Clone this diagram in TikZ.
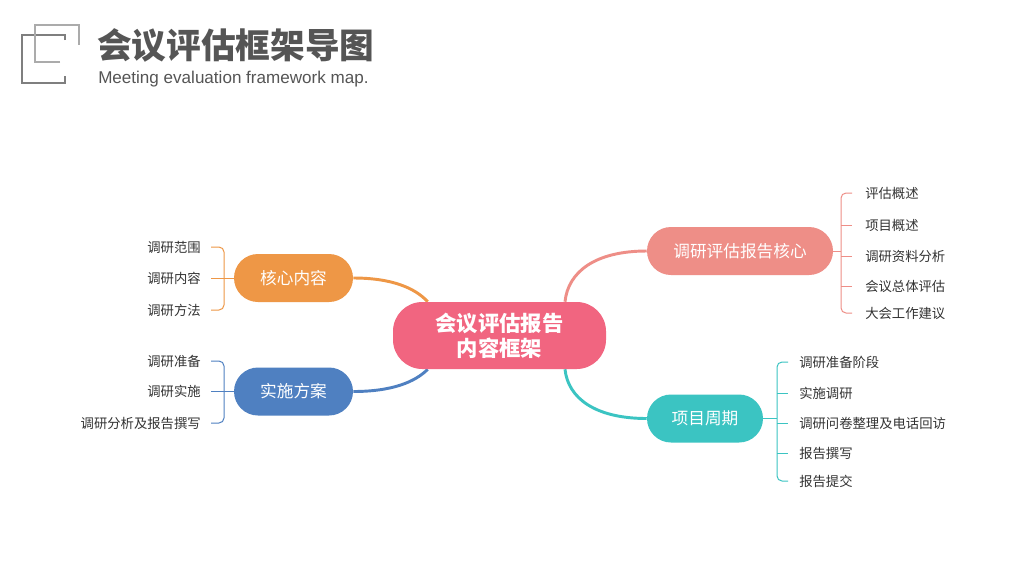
\documentclass[tikz,border=0pt]{standalone}
\usepackage{fontspec}
\setmainfont{Noto Sans CJK SC}
\newfontfamily\latinfont{Liberation Sans}
\usetikzlibrary{calc,backgrounds}
\definecolor{cpink}{HTML}{F16580}
\definecolor{csalmon}{HTML}{EE8E87}
\definecolor{cteal}{HTML}{3BC4C2}
\definecolor{corange}{HTML}{EE9746}
\definecolor{cblue}{HTML}{4F80C1}
\definecolor{titlec}{HTML}{555555}
\definecolor{leafc}{HTML}{333333}
\definecolor{logodark}{HTML}{7F7F7F}
\definecolor{logolight}{HTML}{ABABAB}
\begin{document}
\begin{tikzpicture}[x=0.75pt,y=-0.75pt,
  hub/.style={fill=cpink, rounded corners=22pt, minimum width=159.75pt, minimum height=50.25pt,
    text=white, font=\bfseries\fontsize{16}{18.75}\selectfont, align=center, inner sep=0pt},
  branch/.style={rounded corners=18pt, minimum height=36pt, text=white,
    font=\fontsize{12.5}{14}\selectfont, inner sep=0pt},
  leaf/.style={inner sep=0pt, font=\fontsize{10}{12}\selectfont, text=leafc},
  link/.style={line width=2.2pt},
  brk/.style={line width=0.75pt, rounded corners=3.75pt},
  logoline/.style={line width=1.8pt, miter limit=10}]
\begin{scope}[on background layer]
\fill[white] (0,0) rectangle (1024,576);
\end{scope}
\path[use as bounding box] (0,0) rectangle (1024,576);

% logo
\draw[logoline, logodark] (65,40) -- (65,35) -- (22,35) -- (22,83) -- (65,83) -- (65,76);
\draw[logoline, logolight] (60,62) -- (35,62) -- (35,25) -- (79,25) -- (79,45);

% title
\node[anchor=west, inner sep=0pt, font=\bfseries\fontsize{26}{30}\selectfont, text=titlec] (title) at (97,45) {会议评估框架导图};
\node[anchor=base west, inner sep=0pt, font=\latinfont\fontsize{12.8}{15}\selectfont, text=titlec] (sub) at (98,83) {Meeting evaluation framework map.};

% main nodes
\node[hub] (hub) at (499.5,335.5) {会议评估报告\\内容框架};
\node[branch, fill=csalmon, minimum width=139.5pt] (rep) at (740,251) {调研评估报告核心};
\node[branch, fill=cteal, minimum width=87pt] (cyc) at (705,418.5) {项目周期};
\node[branch, fill=corange, minimum width=89.25pt] (core) at (293.5,278) {核心内容};
\node[branch, fill=cblue, minimum width=89.25pt] (plan) at (293.5,391.5) {实施方案};

% links
\begin{scope}[on background layer]
\draw[link, corange] (core.east) .. controls (392,278) and (415,288) .. ($(hub.north west)+(35,0)$);
\draw[link, cblue] (plan.east) .. controls (392,391.5) and (415,382) .. ($(hub.south west)+(35,0)$);
\draw[link, csalmon] ($(hub.north)+(65.5,0)$) .. controls (568,272) and (595,251) .. (rep.west);
\draw[link, cteal] ($(hub.south)+(65.5,0)$) .. controls (568,398) and (595,418.5) .. (cyc.west);
\end{scope}

% leaves right top
\node[leaf, anchor=west] (a1) at (865,193) {评估概述};
\node[leaf, anchor=west] (a2) at (865,225) {项目概述};
\node[leaf, anchor=west] (a3) at (865,256) {调研资料分析};
\node[leaf, anchor=west] (a4) at (865,286) {会议总体评估};
\node[leaf, anchor=west] (a5) at (865,313) {大会工作建议};
\coordinate (sa) at (841,251);
\draw[brk, csalmon] ($(a1.west)+(-13,0)$) -- (a1.west -| sa) -- (a5.west -| sa) -- ($(a5.west)+(-13,0)$);
\foreach \n in {a2,a3,a4} \draw[brk, csalmon] (\n.west -| sa) -- ($(\n.west)+(-13,0)$);
\draw[brk, csalmon] (rep.east) -- (rep.east -| sa);

% leaves right bottom
\node[leaf, anchor=west] (b1) at (799,362) {调研准备阶段};
\node[leaf, anchor=west] (b2) at (799,393) {实施调研};
\node[leaf, anchor=west] (b3) at (799,423) {调研问卷整理及电话回访};
\node[leaf, anchor=west] (b4) at (799,453) {报告撰写};
\node[leaf, anchor=west] (b5) at (799,481) {报告提交};
\coordinate (sb) at (777,418.5);
\draw[brk, cteal] ($(b1.west)+(-11,0)$) -- (b1.west -| sb) -- (b5.west -| sb) -- ($(b5.west)+(-11,0)$);
\foreach \n in {b2,b3,b4} \draw[brk, cteal] (\n.west -| sb) -- ($(\n.west)+(-11,0)$);
\draw[brk, cteal] (cyc.east) -- (cyc.east -| sb);

% leaves left top
\node[leaf, anchor=east] (c1) at (201,247) {调研范围};
\node[leaf, anchor=east] (c2) at (201,278) {调研内容};
\node[leaf, anchor=east] (c3) at (201,310) {调研方法};
\coordinate (sc) at (224,278);
\draw[brk, corange] ($(c1.east)+(10,0)$) -- (c1.east -| sc) -- (c3.east -| sc) -- ($(c3.east)+(10,0)$);
\draw[brk, corange] ($(c2.east)+(10,0)$) -- (core.west);

% leaves left bottom
\node[leaf, anchor=east] (d1) at (201,361) {调研准备};
\node[leaf, anchor=east] (d2) at (201,391.5) {调研实施};
\node[leaf, anchor=east] (d3) at (201,423) {调研分析及报告撰写};
\coordinate (sd) at (224,391.5);
\draw[brk, cblue] ($(d1.east)+(10,0)$) -- (d1.east -| sd) -- (d3.east -| sd) -- ($(d3.east)+(10,0)$);
\draw[brk, cblue] ($(d2.east)+(10,0)$) -- (plan.west);
\end{tikzpicture}
\end{document}
